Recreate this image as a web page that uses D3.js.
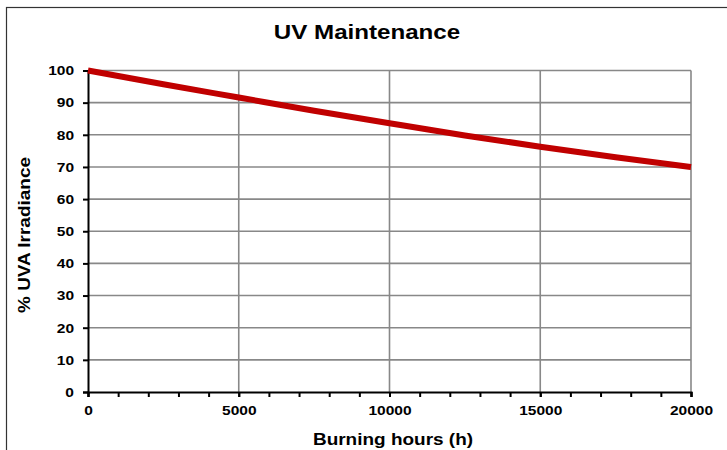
<!DOCTYPE html>
<html><head><meta charset="utf-8">
<script src="https://cdn.jsdelivr.net/npm/d3@7"></script>
<style>body{margin:0;background:#fff}svg{display:block}text{font-family:Arial,"Liberation Sans",sans-serif;font-weight:bold}</style>
</head><body><svg id="c" width="727" height="450"></svg>
<script>
const hours = [0, 2500, 5000, 7500, 10000, 12500, 15000, 17500, 20000];
const irradiance = [100, 95.7, 91.6, 87.5, 83.6, 79.8, 76.3, 73.0, 70.0];
const xTicks = [0, 5000, 10000, 15000, 20000];
const yTicks = [0, 10, 20, 30, 40, 50, 60, 70, 80, 90, 100];
const title = "UV Maintenance";
const xTitle = "Burning hours (h)";
const yTitle = "% UVA Irradiance";

const SX = 1.15; // horizontal glyph stretch seen in the reference
const svg = d3.select("#c");
const x = d3.scaleLinear().domain([0, 20000]).range([88, 691]);
const y = d3.scaleLinear().domain([0, 100]).range([392, 70.5]);

// outer frame
svg.append("rect").attr("x", 6.5).attr("y", 7.5).attr("width", 730).attr("height", 460)
  .attr("fill", "none").attr("stroke", "#333").attr("stroke-width", 1.2);

// grid
const g = svg.append("g");
g.selectAll(".gy").data(yTicks.filter(d => d > 0)).join("line")
  .attr("x1", x(0)).attr("x2", x(20000)).attr("y1", d => y(d)).attr("y2", d => y(d))
  .attr("stroke", "#888").attr("stroke-width", 1.6);
g.selectAll(".gx").data(xTicks.filter(d => d > 0)).join("line")
  .attr("y1", y(0)).attr("y2", y(100)).attr("x1", d => x(d)).attr("x2", d => x(d))
  .attr("stroke", "#888").attr("stroke-width", 1.6);

// axes
const yAxis = d3.axisLeft(y).tickValues(yTicks).tickSize(5).tickPadding(9);
const ya = svg.append("g").attr("transform", `translate(${x(0)},0)`).call(yAxis);
ya.select(".domain").attr("stroke", "#000").attr("stroke-width", 2);
ya.selectAll(".tick line").attr("stroke", "#000").attr("stroke-width", 2);
ya.selectAll("text").attr("font-size", 13.5).attr("fill", "#000").attr("font-weight", "bold")
  .attr("x", -14 / SX).attr("transform", `scale(${SX},1)`);

const xMinor = d3.range(0, 20001, 1000);
const xm = svg.append("g").attr("transform", `translate(0,${y(0)})`)
  .call(d3.axisBottom(x).tickValues(xMinor).tickSize(5).tickFormat(""));
xm.select(".domain").remove();
xm.selectAll(".tick line").attr("stroke", "#000").attr("stroke-width", 2);

const xAxis = d3.axisBottom(x).tickValues(xTicks).tickSize(5).tickPadding(8).tickFormat(d3.format("d"));
const xa = svg.append("g").attr("transform", `translate(0,${y(0)})`).call(xAxis);
xa.select(".domain").attr("stroke", "#000").attr("stroke-width", 2);
xa.selectAll(".tick line").attr("stroke", "#000").attr("stroke-width", 2);
xa.selectAll("text").attr("font-size", 13.5).attr("fill", "#000").attr("font-weight", "bold")
  .attr("transform", `scale(${SX},1)`);

// line
const line = d3.line().x((d, i) => x(hours[i])).y(d => y(d)).curve(d3.curveMonotoneX);
svg.append("path").datum(irradiance).attr("d", line)
  .attr("fill", "none").attr("stroke", "#c00000").attr("stroke-width", 6);

// titles
svg.append("text").attr("transform", `translate(367,38.5) scale(${SX},1)`).attr("text-anchor", "middle")
  .attr("font-size", 21).text(title);
svg.append("text").attr("transform", `translate(393,445) scale(${SX},1)`).attr("text-anchor", "middle")
  .attr("font-size", 16.5).text(xTitle);
svg.append("text").attr("transform", `translate(29.5,235) rotate(-90) scale(${SX},1)`).attr("text-anchor", "middle")
  .attr("font-size", 16.5).text(yTitle);
</script></body></html>
